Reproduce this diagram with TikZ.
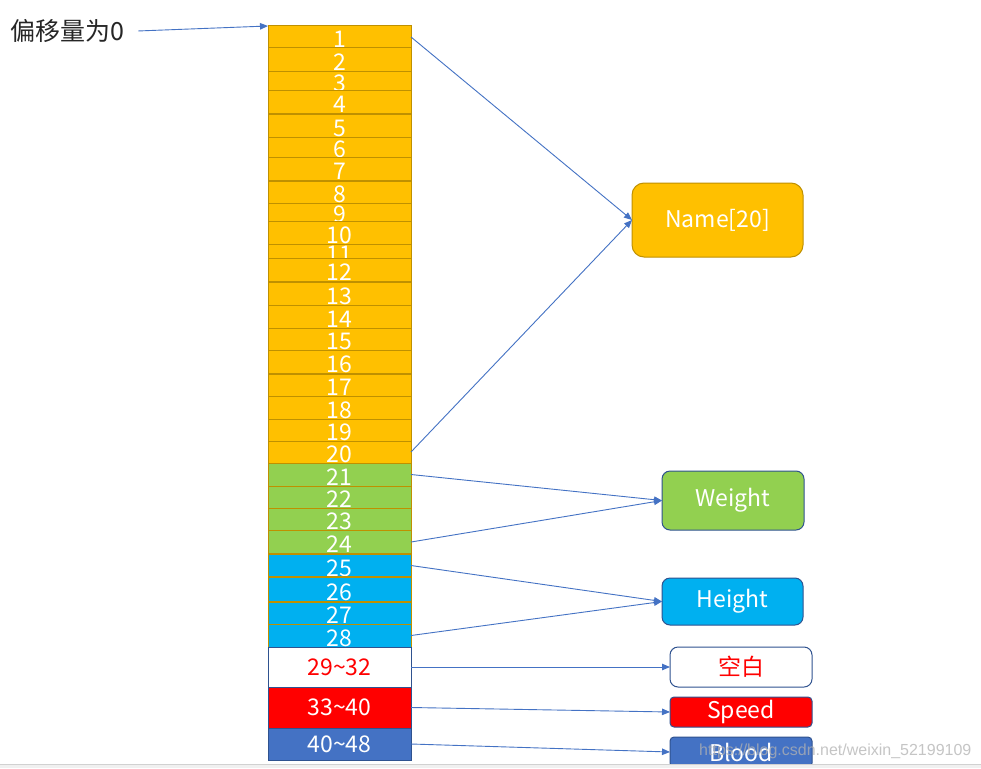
\documentclass[tikz,border=0pt]{standalone}
\usepackage{fontspec}
\setmainfont{Noto Sans CJK SC}
\newfontfamily\wmfont{Liberation Sans}
\usetikzlibrary{arrows.meta}
\definecolor{orfill}{HTML}{FFC000}
\definecolor{orline}{HTML}{BF9000}
\definecolor{grfill}{HTML}{92D050}
\definecolor{blfill}{HTML}{00B0F0}
\definecolor{dkblue}{HTML}{2F528F}
\definecolor{midblue}{HTML}{4472C4}
\definecolor{pptred}{HTML}{FF0000}
\newcommand{\bigtxt}{\fontsize{23}{23}\selectfont}
\newcommand{\tld}{{\char"7E}}
\begin{document}
\begin{tikzpicture}[x=1pt,y=-1pt,
  cell/.style={rectangle, draw=orline, line width=1pt, minimum width=143pt,
    inner sep=0pt, outer sep=0pt, font=\bigtxt, text=white},
  celllabel/.style={anchor=north, inner sep=0pt, text=white, font=\bigtxt},
  thickline/.style={draw=orline, line width=2pt},
  conn/.style={draw=midblue, line width=0.9pt, -{Triangle[length=8pt,width=6.5pt]}},
  tag/.style={rectangle, rounded corners=8pt, line width=1pt, draw=dkblue,
    text=white, font=\bigtxt, inner sep=0pt, outer sep=0pt}
]
\useasboundingbox[fill=white] (0,0) rectangle (981,768);

% offset label
\node[anchor=base west, inner sep=0pt, font=\fontsize{25}{25}\selectfont, text=black!85]
  (lbl) at (10,41) {偏移量为0};

% byte rows 1..28
\foreach \n/\t/\b/\c in {1/26/48/orfill, 2/48/71/orfill, 3/71/90/orfill, 4/90/114/orfill,
  5/114/137/orfill, 6/137/157/orfill, 7/157/181/orfill, 8/181/203/orfill,
  9/203/221/orfill, 10/221/244/orfill, 11/244/258/orfill, 12/258/282/orfill,
  13/282/305/orfill, 14/305/328/orfill, 15/328/350/orfill, 16/350/374/orfill,
  17/374/396/orfill, 18/396/419/orfill, 19/419/441/orfill, 20/441/463/orfill,
  21/463/486/grfill, 22/486/508/grfill, 23/508/530/grfill, 24/530/554/grfill,
  25/554/577/blfill, 26/577/602/blfill, 27/602/624/blfill, 28/624/647/blfill}{
  \pgfmathsetmacro{\h}{\b-\t}
  \pgfmathsetmacro{\m}{(\t+\b)/2}
  \node[cell, fill=\c, minimum height=\h pt,
    path picture={\node[celllabel] at ([yshift=-2.5pt]path picture bounding box.north) {\n};}]
    (r\n) at (339.5,\m) {};
}
\foreach \n in {4,7,12,16,24,25,26}{
  \draw[thickline] (r\n.south west) -- (r\n.south east);
}

% larger rows
\node[cell, draw=dkblue, fill=white, text=pptred, minimum height=40pt] (r29) at (339.5,667) {29\tld32};
\node[cell, draw=dkblue, fill=pptred, minimum height=41pt] (r33) at (339.5,707.5) {33\tld40};
\node[cell, draw=dkblue, fill=midblue, minimum height=32pt] (r40) at (339.5,744) {40\tld48};

% field boxes
\node[tag, rounded corners=12pt, draw=orline, fill=orfill, minimum width=171pt, minimum height=74pt]
  (name) at (717.5,220) {Name[20]};
\node[tag, fill=grfill, minimum width=142pt, minimum height=59pt] (weight) at (733,500.5) {Weight};
\node[tag, fill=blfill, minimum width=141pt, minimum height=47pt] (height) at (732.5,601.5) {Height};
\node[tag, fill=white, text=pptred, minimum width=142pt, minimum height=40pt] (blank) at (741,667) {空白};
\node[tag, rounded corners=4pt, fill=pptred, minimum width=142pt, minimum height=30pt] (speed) at (741,712) {Speed};
\node[tag, rounded corners=4pt, fill=midblue, minimum width=142pt, minimum height=30pt] (blood) at (741,752) {Blood};

% connectors
\draw[conn, shorten <=14pt] (lbl.east) -- (r1.north west);
\draw[conn] (r1.east) -- (name.west);
\draw[conn] (r20.east) -- (name.west);
\draw[conn] (r21.east) -- (weight.west);
\draw[conn] (r24.east) -- (weight.west);
\draw[conn] (r25.east) -- (height.west);
\draw[conn] (r28.east) -- (height.west);
\draw[conn] (r29.east) -- (blank.west);
\draw[conn] (r33.east) -- (speed.west);
\draw[conn] (r40.east) -- (blood.west);

% bottom bar and watermark
\fill[black!6] (0,764) rectangle (981,768);
\draw[black!18, line width=0.6pt] (0,764) -- (981,764);
\node[anchor=base west, inner sep=0pt, font=\wmfont\fontsize{16}{16}\selectfont,
  text=black!30, opacity=0.75] (wm) at (699,755) {https://blog.csdn.net/weixin\_52199109};
\end{tikzpicture}
\end{document}
